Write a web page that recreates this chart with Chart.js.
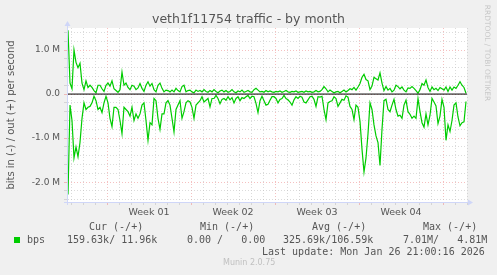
<!DOCTYPE html>
<html>
<head>
<meta charset="utf-8">
<script src="https://cdn.jsdelivr.net/npm/chart.js@4"></script>
<style>
  body { margin: 0; background: #f0f0f0; }
  #wrap { position: relative; width: 497px; height: 275px; overflow: hidden; }
  #wrap canvas { position: absolute; left: 0; top: 0; }
  .t { position: absolute; white-space: pre; color: #555; line-height: 12px; }
  .mono { font-family: "DejaVu Sans Mono", monospace; font-size: 10px; }
  .sans { font-family: "DejaVu Sans", sans-serif; }
</style>
</head>
<body>
<div id="wrap">
  <canvas id="chart" width="497" height="275"></canvas>
</div>
<script>
// sample grid of the month graph: one point every 4 hours, hour 0 = start of Week 01
const sampleStart = -78;
const sampleStep = 4;

// out (+), Mbit/s
const outValues = [
  1.45, 0.25, 0.12, 1.0, 0.72, 0.6, 0.7, 0.25, 0.1, 0.3,
  0.15, 0.2, 0.15, 0.08, 0.03, 0.2, 0.2, 0.12, 0.06, 0.2,
  0.25, 0.18, 0.3, 0.12, 0.08, 0.04, 0.1, 0.5, 0.2, 0.25,
  0.15, 0.1, 0.2, 0.18, 0.1, 0.14, 0.24, 0.13, 0.06, 0.2,
  0.28, 0.18, 0.24, 0.1, 0.05, 0.2, 0.25, 0.13, 0.05, 0.09,
  0.08, 0.05, 0.09, 0.05, 0.13, 0.08, 0.05, 0.17, 0.2, 0.05,
  0.08, 0.09, 0.05, 0.03, 0.09, 0.06, 0.08, 0.05, 0.1, 0.06,
  0.04, 0.08, 0.05, 0.1, 0.06, 0.03, 0.07, 0.09, 0.05, 0.08,
  0.04, 0.06, 0.1, 0.05, 0.03, 0.07, 0.05, 0.09, 0.04, 0.06,
  0.08, 0.05, 0.04, 0.1, 0.13, 0.09, 0.05, 0.06, 0.04, 0.08,
  0.05, 0.07, 0.05, 0.04, 0.06, 0.05, 0.07, 0.04, 0.06, 0.08,
  0.05, 0.04, 0.06, 0.05, 0.07, 0.04, 0.05, 0.06, 0.04, 0.07,
  0.05, 0.06, 0.04, 0.05, 0.08, 0.05, 0.06, 0.1, 0.17, 0.12,
  0.05, 0.09, 0.06, 0.03, 0.05, 0.06, 0.03, 0.06, 0.09, 0.05,
  0.08, 0.12, 0.1, 0.15, 0.09, 0.16, 0.24, 0.38, 0.45, 0.33,
  0.3, 0.1, 0.18, 0.38, 0.35, 0.32, 0.48, 0.25, 0.08, 0.17,
  0.09, 0.13, 0.05, 0.09, 0.2, 0.17, 0.12, 0.16, 0.09, 0.05,
  0.14, 0.13, 0.17, 0.13, 0.08, 0.02, 0.1, 0.24, 0.2, 0.32,
  0.15, 0.06, 0.16, 0.1, 0.13, 0.08, 0.15, 0.12, 0.09, 0.16,
  0.06, 0.16, 0.09, 0.16, 0.13, 0.2, 0.28, 0.2, 0.15, 0.02
];

// in (-), Mbit/s
const inValues = [
  -2.28, -0.25, -0.6, -1.45, -1.2, -1.42, -1.1, -0.55, -0.2, -0.35,
  -0.3, -0.28, -0.2, -0.05, -0.15, -0.35, -0.3, -0.42, -0.2, -0.05,
  -0.2, -0.55, -0.74, -0.3, -0.3, -0.35, -0.6, -0.9, -0.3, -0.35,
  -0.4, -0.5, -0.3, -0.6, -0.45, -0.55, -0.45, -0.25, -0.2, -0.6,
  -1.05, -0.65, -0.7, -0.1, -0.15, -0.55, -0.8, -0.45, -0.45, -0.2,
  -0.15, -0.25, -0.55, -0.86, -0.35, -0.25, -0.15, -0.55, -0.4, -0.2,
  -0.15, -0.18, -0.3, -0.55, -0.25, -0.2, -0.15, -0.06, -0.18, -0.14,
  -0.1, -0.29, -0.1, -0.1, -0.03, -0.1, -0.22, -0.12, -0.1, -0.14,
  -0.06, -0.13, -0.08, -0.2, -0.1, -0.06, -0.15, -0.08, -0.1, -0.06,
  -0.03, -0.1, -0.05, -0.06, -0.21, -0.42, -0.15, -0.05, -0.15, -0.25,
  -0.23, -0.14, -0.06, -0.06, -0.1, -0.2, -0.12, -0.1, -0.03, -0.1,
  -0.13, -0.18, -0.25, -0.13, -0.06, -0.1, -0.05, -0.07, -0.18, -0.2,
  -0.13, -0.06, -0.05, -0.12, -0.28, -0.06, -0.07, -0.05, -0.35, -0.58,
  -0.2, -0.17, -0.15, -0.06, -0.1, -0.28, -0.2, -0.12, -0.14, -0.04,
  -0.07, -0.28, -0.35, -0.58, -0.25, -0.3, -0.62, -1.25, -1.77, -1.45,
  -0.9, -0.2, -0.35, -0.7, -0.95, -1.1, -1.62, -0.8, -0.15, -0.12,
  -0.35, -0.4, -0.25, -0.12, -0.35, -0.5, -0.48, -0.55, -0.25, -0.14,
  -0.4, -0.46, -0.55, -0.5, -0.55, -0.1, -0.4, -0.65, -0.75, -0.45,
  -0.7, -0.48, -0.1, -0.18, -0.27, -0.67, -0.5, -0.12, -0.3, -1.05,
  -0.7, -0.85, -0.6, -0.25, -0.2, -0.52, -0.72, -0.65, -0.63, -0.17
];

const weekLabels = ["Week 01", "Week 02", "Week 03", "Week 04"];
const yTickValues = [1, 0, -1, -2];
const yTickLabels = ["1.0 M", "0.0", "-1.0 M", "-2.0 M"];

const statHeaders = ["Cur (-/+)", "Min (-/+)", "Avg (-/+)", "Max (-/+)"];
const statValues = ["159.63k/ 11.96k", "0.00 /   0.00", "325.69k/106.59k", "7.01M/   4.81M"];
const seriesName = "bps";
const lastUpdate = "Last update: Mon Jan 26 21:00:16 2026";

const hourMin = -80, hourMax = 720;
const GRID = "rgba(190,190,190,0.55)";
const MGRID = "rgba(235,130,130,0.5)";
const AXIS = "#cfd6f8";

const outPoints = outValues.map((v, i) => ({ x: sampleStart + i * sampleStep, y: v }));
const inPoints = inValues.map((v, i) => ({ x: sampleStart + i * sampleStep, y: v }));

const canvasBg = {
  id: "canvasBg",
  beforeDraw(chart) {
    const { ctx, chartArea: a } = chart;
    ctx.save();
    ctx.fillStyle = "#ffffff";
    ctx.fillRect(a.left, a.top, a.right - a.left, a.bottom - a.top);
    ctx.restore();
  },
  afterDraw(chart) {
    // axis arrows like rrdtool
    const { ctx, chartArea: a } = chart;
    ctx.save();
    ctx.strokeStyle = AXIS;
    ctx.fillStyle = AXIS;
    ctx.lineWidth = 1;
    ctx.beginPath();
    ctx.moveTo(a.left - 3, a.bottom + 0.5);
    ctx.lineTo(a.right + 2, a.bottom + 0.5);
    ctx.moveTo(a.left + 0.5, a.bottom + 3);
    ctx.lineTo(a.left + 0.5, a.top - 2);
    ctx.stroke();
    ctx.beginPath();
    ctx.moveTo(a.right + 6, a.bottom + 0.5);
    ctx.lineTo(a.right + 1, a.bottom - 2.5);
    ctx.lineTo(a.right + 1, a.bottom + 3.5);
    ctx.closePath();
    ctx.fill();
    ctx.beginPath();
    ctx.moveTo(a.left + 0.5, a.top - 7);
    ctx.lineTo(a.left - 2.5, a.top - 2);
    ctx.lineTo(a.left + 3.5, a.top - 2);
    ctx.closePath();
    ctx.fill();
    ctx.restore();
  }
};

const xTickHours = [];
for (let h = -72; h <= hourMax; h += 12) xTickHours.push(h);
const yTickSteps = [];
for (let k = -12; k <= 7; k++) yTickSteps.push(Math.round(k * 2) / 10);

const isWhole = (v) => Math.abs(v - Math.round(v)) < 1e-9;

new Chart(document.getElementById("chart"), {
  type: "line",
  data: {
    datasets: [
      { data: [{ x: hourMin, y: 0 }, { x: hourMax, y: 0 }], borderColor: "#000000", borderWidth: 1, pointRadius: 0, order: 0 },
      { label: "out", data: outPoints, borderColor: "#00cc00", borderWidth: 1.2, pointRadius: 0, tension: 0, order: 1 },
      { label: "in", data: inPoints, borderColor: "#00cc00", borderWidth: 1.2, pointRadius: 0, tension: 0, order: 1 }
    ]
  },
  options: {
    responsive: false,
    animation: false,
    layout: { padding: { left: 0, top: 28, right: 30, bottom: 0 } },
    plugins: { legend: { display: false }, tooltip: { enabled: false } },
    scales: {
      x: {
        type: "linear",
        min: hourMin,
        max: hourMax,
        afterBuildTicks: (s) => { s.ticks = xTickHours.map((v) => ({ value: v })); },
        afterFit: (s) => { s.height = 73; },
        border: { color: AXIS, dash: [1, 2] },
        grid: {
          color: (c) => {
            const v = c.tick ? c.tick.value : 0;
            if (v % 168 === 0) return MGRID;
            if (v % 24 === 0) return GRID;
            return "rgba(0,0,0,0)";
          },
          tickColor: (c) => {
            const v = c.tick ? c.tick.value : 0;
            if (v % 168 === 0) return MGRID;
            if (v % 24 === 0) return GRID;
            return "rgba(0,0,0,0)";
          },
          tickLength: 3,
          lineWidth: 1
        },
        ticks: {
          autoSkip: false,
          maxRotation: 0,
          padding: 2,
          color: "#555",
          font: { family: "DejaVu Sans", size: 9.5 },
          callback: (v) => {
            const w = (v - 84) / 168;
            return (Number.isInteger(w) && w >= 0 && w < weekLabels.length) ? weekLabels[w] : "";
          }
        }
      },
      y: {
        min: -2.45,
        max: 1.5,
        afterBuildTicks: (s) => { s.ticks = yTickSteps.map((v) => ({ value: v })); },
        afterFit: (s) => { s.width = 67; },
        border: { color: AXIS, dash: [1, 2] },
        grid: {
          color: (c) => (c.tick && isWhole(c.tick.value)) ? MGRID : GRID,
          tickColor: (c) => (c.tick && isWhole(c.tick.value)) ? MGRID : GRID,
          tickLength: 3,
          lineWidth: 1
        },
        ticks: {
          autoSkip: false,
          padding: 4,
          color: "#555",
          font: { family: "DejaVu Sans", size: 9 },
          callback: (v) => {
            const i = yTickValues.findIndex((t) => Math.abs(t - v) < 1e-9);
            return i >= 0 ? yTickLabels[i] : "";
          }
        }
      }
    }
  },
  plugins: [canvasBg]
});

// text around the plot (title, axis title, legend)
const wrap = document.getElementById("wrap");
function addText(txt, cls, left, centerY, extra) {
  const d = document.createElement("div");
  d.className = "t " + cls;
  d.textContent = txt;
  d.style.left = left + "px";
  d.style.top = (centerY - 6) + "px";
  if (extra) Object.assign(d.style, extra);
  wrap.appendChild(d);
  return d;
}

addText("veth1f11754 traffic - by month", "sans", 0, 19, { width: "497px", textAlign: "center", fontSize: "12.5px", color: "#555" });
addText("bits in (-) / out (+) per second", "sans", -74, 115, { width: "170px", textAlign: "center", fontSize: "10px", transform: "rotate(-90deg)", color: "#555" });
addText("RRDTOOL / TOBI OETIKER", "sans", 437, 53, { width: "100px", textAlign: "center", fontSize: "7.5px", transform: "rotate(90deg)", color: "#c8c8c8" });

const headerLeft = [89, 200, 312, 423];
const valueLeft = [67, 187, 283, 403];
statHeaders.forEach((h, i) => addText(h, "mono", headerLeft[i], 227));
statValues.forEach((v, i) => addText(v, "mono", valueLeft[i], 240));
addText(seriesName, "mono", 27, 240);
addText(lastUpdate, "mono", 262, 252);
addText("Munin 2.0.75", "sans", 223, 263, { fontSize: "8px", color: "#c0c0c0" });

const sw = document.createElement("div");
Object.assign(sw.style, { position: "absolute", left: "14px", top: "237px", width: "6px", height: "6px", background: "#00cc00" });
wrap.appendChild(sw);
</script>
</body>
</html>
